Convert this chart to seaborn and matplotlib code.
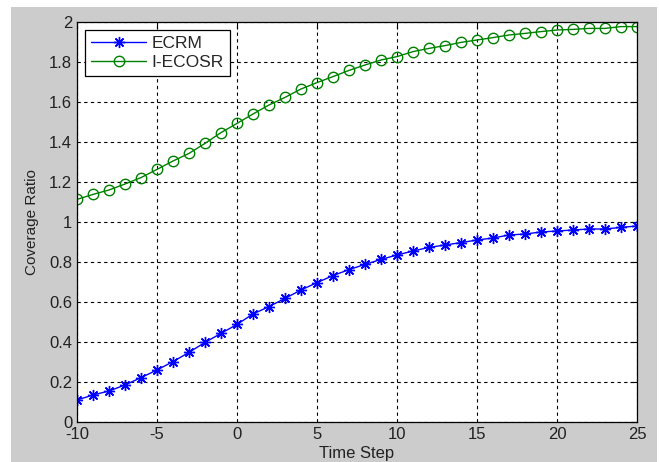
import numpy as np
import pandas as pd
import matplotlib
matplotlib.use("Agg")
import matplotlib.pyplot as plt
from matplotlib.patches import Rectangle
import seaborn as sns

# 数据
time_step = list(range(-10, 26))
ecrm = [0.11, 0.135, 0.155, 0.185, 0.222, 0.26, 0.302, 0.348, 0.398, 0.443,
        0.488, 0.54, 0.577, 0.618, 0.66, 0.697, 0.732, 0.762, 0.788, 0.813,
        0.835, 0.855, 0.873, 0.885, 0.897, 0.91, 0.92, 0.935, 0.94, 0.95,
        0.955, 0.96, 0.965, 0.965, 0.973, 0.98]
iecosr = [1.113, 1.138, 1.16, 1.19, 1.222, 1.263, 1.305, 1.343, 1.393, 1.447,
          1.493, 1.54, 1.585, 1.623, 1.665, 1.697, 1.727, 1.758, 1.785, 1.81,
          1.827, 1.852, 1.868, 1.882, 1.898, 1.91, 1.922, 1.935, 1.943, 1.952,
          1.96, 1.963, 1.968, 1.968, 1.977, 1.977]
x_ticks = [-10, -5, 0, 5, 10, 15, 20, 25]
y_ticks = [0, 0.2, 0.4, 0.6, 0.8, 1, 1.2, 1.4, 1.6, 1.8, 2]

df = pd.DataFrame({"Time Step": time_step, "ECRM": ecrm, "I-ECOSR": iecosr})

sns.set_style("white")
plt.rcParams['font.family'] = ['Liberation Sans', 'DejaVu Sans']
plt.rcParams['axes.unicode_minus'] = False

fig = plt.figure(figsize=(6.59, 4.62), dpi=100, facecolor="white")
# MATLAB 风格的灰色底
fig.patches.append(Rectangle((11 / 659, 0), 646 / 659, 455 / 462,
                             transform=fig.transFigure, facecolor="#cccccc",
                             edgecolor="none", zorder=-10))
ax = fig.add_axes([77 / 659, 40 / 462, 560 / 659, 400 / 462])
ax.set_facecolor("white")

sns.lineplot(data=df, x="Time Step", y="ECRM", ax=ax, color="#0000ff",
             marker=(8, 2, 0), markersize=8, markeredgewidth=1,
             markeredgecolor="#0000ff", linewidth=1, label="ECRM")
sns.lineplot(data=df, x="Time Step", y="I-ECOSR", ax=ax, color="#008000",
             marker="o", markersize=7.5, markerfacecolor="none",
             markeredgecolor="#008000", markeredgewidth=1, linewidth=1,
             label="I-ECOSR")

ax.set_xlim(-10, 25)
ax.set_ylim(0, 2)
ax.set_xticks(x_ticks)
ax.set_yticks(y_ticks)
ax.set_yticklabels(["0", "0.2", "0.4", "0.6", "0.8", "1", "1.2", "1.4", "1.6", "1.8", "2"])
ax.grid(True, color="black", linestyle=(0, (3, 3)), linewidth=0.8)
ax.tick_params(direction="in", length=5, width=0.8, top=True, right=True,
               labelsize=12, pad=3.5, colors="black", labelcolor="#222222")
for s in ax.spines.values():
    s.set_color("black")
    s.set_linewidth(0.9)

ax.set_xlabel("Time Step", fontsize=12, labelpad=3, color="#222222")
ax.set_ylabel("Coverage Ratio", fontsize=11, labelpad=7, color="#222222")

leg = ax.legend(loc="upper left", fontsize=12.5, frameon=True, fancybox=False,
                edgecolor="black", framealpha=1, borderpad=0.35,
                handlelength=3.2, handletextpad=0.3, labelspacing=0.2,
                borderaxespad=0.45)
leg.get_frame().set_linewidth(0.9)

fig.savefig("out.png", dpi=100, facecolor=fig.get_facecolor())
